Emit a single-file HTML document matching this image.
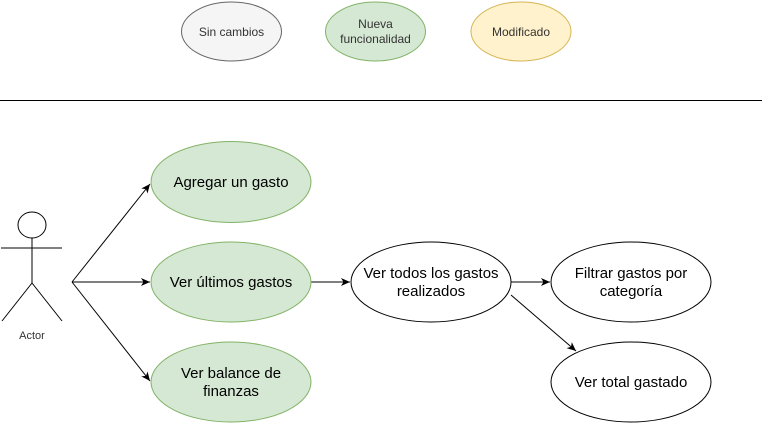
<!DOCTYPE html>
<html><head><meta charset="utf-8"><style>
body{margin:0;background:#fff;}
svg{display:block;font-family:"Liberation Sans",sans-serif;}
</style></head><body>
<svg width="764" height="423" viewBox="0 0 764 423">
<defs><marker id="a" markerWidth="10" markerHeight="10" refX="9" refY="5" orient="auto" markerUnits="userSpaceOnUse"><path d="M0,1 L9,5 L0,9 L2.5,5 z" fill="#000"/></marker></defs>
<g stroke-width="1">
<ellipse cx="231.5" cy="31.5" rx="50" ry="29.5" fill="#f5f5f5" stroke="#666"/>
<ellipse cx="375.5" cy="31.5" rx="50" ry="29.5" fill="#d5e8d4" stroke="#82b366"/>
<ellipse cx="521" cy="31.5" rx="50" ry="29.5" fill="#fff2cc" stroke="#d6b656"/>
</g>
<g font-size="12" fill="#333" text-anchor="middle">
<text x="231.5" y="36">Sin cambios</text>
<text x="375.5" y="28">Nueva</text>
<text x="375.5" y="43">funcionalidad</text>
<text x="521" y="36">Modificado</text>
</g>
<line x1="0" y1="100.5" x2="762" y2="100.5" stroke="#000"/>
<g stroke="#000" fill="none">
<ellipse cx="32" cy="225" rx="14" ry="13" fill="#fff"/>
<line x1="32" y1="238" x2="32" y2="283"/>
<line x1="1" y1="248" x2="62" y2="248"/>
<line x1="32" y1="283" x2="2" y2="321"/>
<line x1="32" y1="283" x2="62" y2="321"/>
<line x1="72" y1="282" x2="150" y2="184" marker-end="url(#a)"/>
<line x1="72" y1="282" x2="150" y2="282" marker-end="url(#a)"/>
<line x1="72" y1="282" x2="150" y2="381" marker-end="url(#a)"/>
<line x1="311" y1="282" x2="350" y2="282" marker-end="url(#a)"/>
<line x1="511" y1="282" x2="550" y2="282" marker-end="url(#a)"/>
<line x1="511" y1="295" x2="576" y2="351" marker-end="url(#a)"/>
</g>
<text x="32" y="339" font-size="11" fill="#333" text-anchor="middle">Actor</text>
<g fill="#d5e8d4" stroke="#82b366">
<ellipse cx="231" cy="182" rx="80" ry="40.5"/>
<ellipse cx="231" cy="282" rx="80" ry="40"/>
<ellipse cx="231" cy="382" rx="80" ry="40"/>
</g>
<g fill="#fff" stroke="#000">
<ellipse cx="431" cy="282" rx="80" ry="40"/>
<ellipse cx="631" cy="282" rx="80" ry="40"/>
<ellipse cx="631" cy="382" rx="80" ry="40"/>
</g>
<g font-size="15" fill="#000" text-anchor="middle">
<text x="231" y="187">Agregar un gasto</text>
<text x="231" y="287">Ver últimos gastos</text>
<text x="231" y="378">Ver balance de</text>
<text x="231" y="396">finanzas</text>
<text x="431" y="278">Ver todos los gastos</text>
<text x="431" y="296">realizados</text>
<text x="631" y="278">Filtrar gastos por</text>
<text x="631" y="296">categoría</text>
<text x="631" y="387">Ver total gastado</text>
</g>
</svg>
</body></html>
